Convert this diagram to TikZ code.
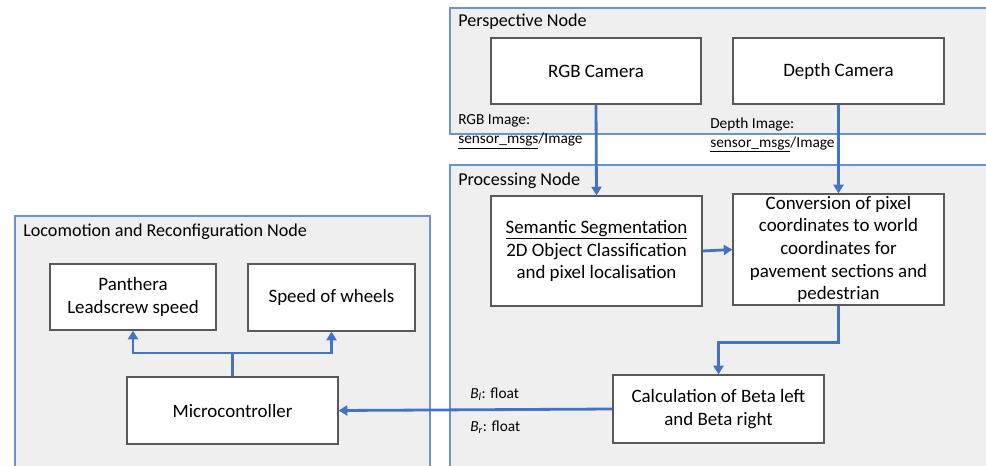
\documentclass[tikz,border=0pt]{standalone}
\usepackage{fontspec}
\setmainfont{Carlito}
\usetikzlibrary{arrows.meta,calc}
\definecolor{contfill}{HTML}{EFEFEF}
\definecolor{contline}{HTML}{6A93D4}
\definecolor{boxline}{HTML}{595959}
\definecolor{arrblue}{HTML}{4472C4}
\tikzset{
  container/.style={fill=contfill,draw=contline,line width=0.8pt},
  box/.style={draw=boxline,fill=white,line width=0.9pt,inner sep=0pt,align=center,
    font=\fontsize{14.2}{17}\selectfont},
  title/.style={anchor=west,inner sep=0pt,font=\fontsize{13.6}{16}\selectfont},
  lbl/.style={anchor=west,inner sep=0pt,align=left,font=\fontsize{11.5}{14.25}\selectfont},
  arr/.style={draw=arrblue,line width=2.1pt,-{Triangle[length=6.5pt,width=7.5pt]}},
  link/.style={draw=arrblue,line width=2.1pt}
}
\begin{document}
\begin{tikzpicture}[x=0.75pt,y=-0.75pt]
\useasboundingbox (0,0) rectangle (986,465);
\clip (0,0) rectangle (986,465);
% containers
\path[container] (450,8) rectangle (1000,134);
\path[container] (450,165) rectangle (1000,480);
\path[container] (15,216) rectangle (430,480);
\node[title] (tpersp) at (458,22) {Perspective Node};
\node[title] (tproc) at (458,181) {Processing Node};
\node[title] (tloco) at (23,232) {Locomotion and Reconfiguration Node};
% boxes
\node[box,minimum width=157.5pt,minimum height=49.5pt] (rgb) at (596,71) {RGB Camera};
\node[box,minimum width=158.25pt,minimum height=49.5pt] (depth) at (838.5,71) {Depth Camera};
\node[box,minimum width=158.25pt,minimum height=82.5pt] (sem) at (596.5,251) {\underline{Semantic Segmentation}\\2D Object Classification\\and pixel localisation};
\node[box,minimum width=158.25pt,minimum height=83.25pt] (conv) at (838.5,249.5) {Conversion of pixel\\coordinates to world\\coordinates for\\pavement sections and\\pedestrian};
\node[box,minimum width=158.25pt,minimum height=51pt] (calc) at (718.5,409) {Calculation of Beta left\\and Beta right};
\node[box,minimum width=124.5pt,minimum height=49.5pt] (pan) at (133,297) {Panthera\\Leadscrew speed};
\node[box,minimum width=125.25pt,minimum height=50.25pt] (wheel) at (331.5,297.5) {Speed of wheels};
\node[box,minimum width=158.25pt,minimum height=50.25pt] (micro) at (232.5,410.5) {Microcontroller};
% labels
\node[lbl] (lrgb) at (458,131.5) {RGB Image:\\\underline{sensor\_msgs}/Image};
\node[lbl] (ldepth) at (710,135) {Depth Image:\\\underline{sensor\_msgs}/Image};
\node[lbl] (lbl1) at (470,394) {\itshape B\textsubscript{\itshape l}\upshape: float};
\node[lbl] (lbl2) at (470,427) {\itshape B\textsubscript{\itshape r}\upshape: float};
% connectors
\draw[arr] (rgb.south) -- (sem.north);
\draw[arr] (depth.south) -- (conv.north);
\draw[arr] (sem.east) -- (conv.west);
\draw[arr] (conv.south) -- ++(0,37) -| (calc.north);
\draw[arr] (calc.west) -- (micro.east);
\coordinate (split) at (232.5,353);
\draw[link] (micro.north) -- (split);
\draw[arr] (split) -| (pan.south);
\draw[arr] (split) -| (wheel.south);
\end{tikzpicture}
\end{document}
